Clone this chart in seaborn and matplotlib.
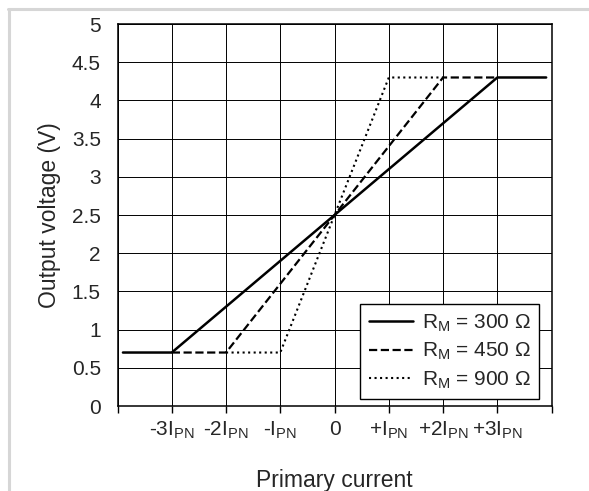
import pandas as pd
import seaborn as sns
from matplotlib import pyplot as plt
from matplotlib.lines import Line2D

# 数据: 三条输出电压曲线 (x 单位为 I_PN)
x_300 = [-3.9, -3, 3, 3.9]
y_300 = [0.7, 0.7, 4.3, 4.3]
x_450 = [-3, -2, 2, 3]
y_450 = [0.7, 0.7, 4.3, 4.3]
x_900 = [-2, -1, 1, 2]
y_900 = [0.7, 0.7, 4.3, 4.3]

x_ticks = [-4, -3, -2, -1, 0, 1, 2, 3, 4]
x_tick_labels = ['', r'-3I$_{\mathrm{PN}}$', r'-2I$_{\mathrm{PN}}$', r'-I$_{\mathrm{PN}}$', '0',
                 r'+I$_{\mathrm{PN}}$', r'+2I$_{\mathrm{PN}}$', r'+3I$_{\mathrm{PN}}$', '']
y_ticks = [0, 0.5, 1, 1.5, 2, 2.5, 3, 3.5, 4, 4.5, 5]
y_tick_labels = ['0', '0.5', '1', '1.5', '2', '2.5', '3', '3.5', '4', '4.5', '5']

sns.set_style('white')
plt.rcParams['font.family'] = ['Liberation Sans', 'DejaVu Sans']
plt.rcParams['mathtext.fontset'] = 'custom'
plt.rcParams['mathtext.rm'] = 'Liberation Sans'
plt.rcParams['mathtext.it'] = 'Liberation Sans:italic'
plt.rcParams['mathtext.bf'] = 'Liberation Sans:bold'

fig = plt.figure(figsize=(5.89, 4.91), dpi=100)
ax = fig.add_axes([0.1995, 0.1731, 0.737, 0.778])

# 按顺序画: 点线 -> 虚线 -> 实线 (实线在最上面)
series = [
    (x_900, y_900, r'R$_{\mathrm{M}}$ = 900 Ω', dict(linestyle=':', linewidth=1.5)),
    (x_450, y_450, r'R$_{\mathrm{M}}$ = 450 Ω', dict(linestyle='--', dashes=(4.4, 2.8), linewidth=1.6)),
    (x_300, y_300, r'R$_{\mathrm{M}}$ = 300 Ω', dict(linestyle='-', linewidth=1.8)),
]
for xs, ys, lab, kw in series:
    df = pd.DataFrame({'x': xs, 'y': ys})
    sns.lineplot(data=df, x='x', y='y', ax=ax, color='black', sort=False,
                 estimator=None, label=lab, **kw)

ax.set_xlim(-4, 4)
ax.set_ylim(0, 5)
ax.set_xticks(x_ticks)
ax.set_xticklabels(x_tick_labels, fontsize=15)
ax.set_yticks(y_ticks)
ax.set_yticklabels(y_tick_labels, fontsize=15)
ax.tick_params(axis='x', direction='out', length=5, width=1, color='black', pad=5, bottom=True)
ax.tick_params(axis='y', length=0, pad=12)
ax.grid(True, color='black', linewidth=0.7)
for s in ax.spines.values():
    s.set_color('black')
    s.set_linewidth(1.1)

ax.set_xlabel('Primary current', fontsize=16.5, labelpad=20)
ax.set_ylabel('Output voltage (V)', fontsize=16.5, labelpad=8)

# 图例: 实线 虚线 点线
h, l = ax.get_legend_handles_labels()
order = [2, 1, 0]
leg = ax.legend([h[i] for i in order], [l[i] for i in order], loc='lower right',
                bbox_to_anchor=(0.972, 0.018), borderaxespad=0, fontsize=15,
                frameon=True, fancybox=False, framealpha=1, edgecolor='black',
                handlelength=2.1, handletextpad=0.45, labelspacing=0.35,
                borderpad=0.4)
leg.get_frame().set_linewidth(1.0)

# 外边框 (上 左)
fig.add_artist(Line2D([8 / 589, 1], [1 - 9 / 491, 1 - 9 / 491], transform=fig.transFigure,
                      color='#d6d6d6', linewidth=2.2))
fig.add_artist(Line2D([9 / 589, 9 / 589], [0, 1 - 9 / 491], transform=fig.transFigure,
                      color='#d6d6d6', linewidth=2.2))

fig.savefig('out.png', dpi=100)
